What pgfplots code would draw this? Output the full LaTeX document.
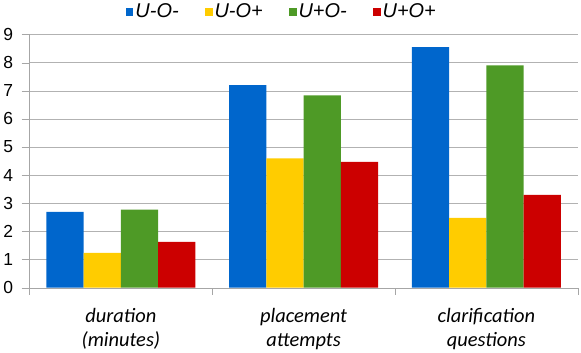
\documentclass[border=0pt]{standalone}
\usepackage{fontspec}
\setmainfont{Carlito}
\newfontfamily\arial{Liberation Sans}
\usepackage{pgfplots}
\pgfplotsset{compat=1.18}
\definecolor{cblue}{RGB}{0,102,204}
\definecolor{cyellow}{RGB}{255,204,0}
\definecolor{cgreen}{RGB}{78,154,38}
\definecolor{cred}{RGB}{204,0,0}
\begin{document}
\begin{tikzpicture}
\begin{axis}[
  width=550pt, height=254pt, scale only axis,
  xmin=-0.5, xmax=2.5, ymin=0, ymax=9,
  ybar, bar width=0.204,
  ytick={0,...,9},
  ymajorgrids, grid style={draw=black!30},
  axis x line*=bottom, axis y line*=left,
  axis line style={black!35, -},
  tick align=outside, major tick length=8pt,
  ytick style={black!35},
  xtick={0,1,2},
  xticklabels={{duration\\(minutes)},{placement\\attempts},{clarification\\questions}},
  xticklabel style={align=center, font=\itshape\fontsize{20.5}{24}\selectfont, yshift=-9pt},
  xtick style={draw=none},
  extra x ticks={-0.5,0.5,1.5,2.5},
  extra x tick labels={},
  extra x tick style={xtick style={draw=black!35}, major tick length=7pt},
  yticklabel style={font=\arial\fontsize{17.5}{18}\selectfont, /pgf/number format/assume math mode=true, xshift=-5pt},
  legend style={at={(0.46,1)}, anchor=south, yshift=11pt, legend columns=4, draw=none, fill=none,
    font=\arial\itshape\fontsize{20}{22}\selectfont,
    /tikz/every even column/.append style={column sep=24pt},
    /tikz/every odd column/.append style={column sep=0pt}},
  legend image code/.code={\fill[#1] (0pt,-4pt) rectangle (8pt,4pt);},
]
\addplot[fill=cblue, draw=none, bar shift=-0.306] coordinates {(0,2.70) (1,7.20) (2,8.55)};
\addplot[fill=cyellow, draw=none, bar shift=-0.102] coordinates {(0,1.24) (1,4.60) (2,2.48)};
\addplot[fill=cgreen, draw=none, bar shift=0.102] coordinates {(0,2.78) (1,6.84) (2,7.90)};
\addplot[fill=cred, draw=none, bar shift=0.306] coordinates {(0,1.63) (1,4.47) (2,3.30)};
\legend{U-O-,U-O+,U+O-,U+O+}
\end{axis}
\end{tikzpicture}
\end{document}
